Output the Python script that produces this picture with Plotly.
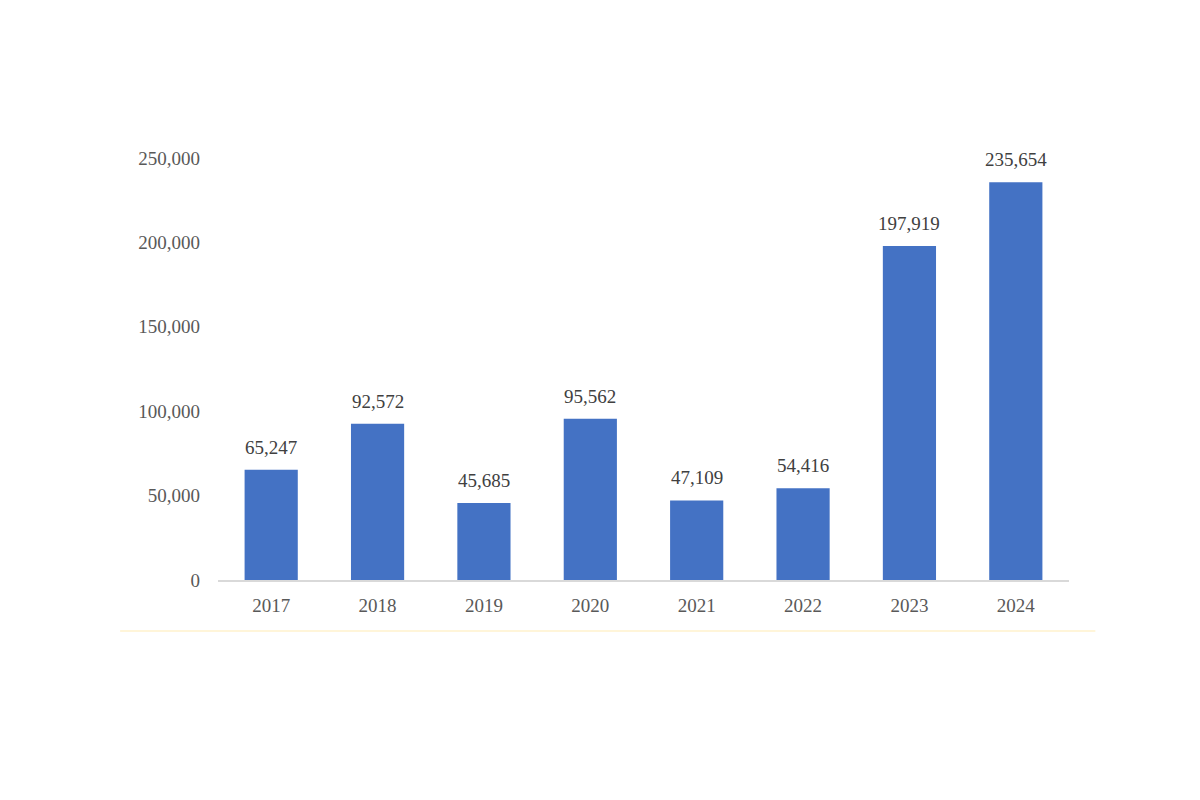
import plotly.graph_objects as go

years = ["2017", "2018", "2019", "2020", "2021", "2022", "2023", "2024"]
values = [65247, 92572, 45685, 95562, 47109, 54416, 197919, 235654]
y_ticks = [0, 50000, 100000, 150000, 200000, 250000]
y_tick_text = ["0", "50,000", "100,000", "150,000", "200,000", "250,000"]

font_family = "Liberation Serif, DejaVu Serif, serif"

fig = go.Figure(
    go.Bar(
        x=years,
        y=values,
        marker=dict(color="#4472C4", line=dict(width=0)),
        width=0.5,
        cliponaxis=False,
        hoverinfo="x+y",
    )
)

# category axis: annotation x given as the category index
for i, v in enumerate(values):
    fig.add_annotation(
        x=i, y=v, xref="x", yref="y",
        text=f"{v:,}",
        showarrow=False,
        yanchor="bottom",
        yshift=10,
        font=dict(family=font_family, size=19, color="#404040"),
    )

fig.update_layout(
    width=1200,
    height=800,
    paper_bgcolor="white",
    plot_bgcolor="white",
    margin=dict(l=210, r=139, t=150, b=228),
    showlegend=False,
    font=dict(family=font_family, size=19, color="#595959"),
)

fig.update_xaxes(
    type="category",
    categoryorder="array",
    categoryarray=years,
    range=[-0.5, len(years) - 0.5],
    showline=True,
    linecolor="#D9D9D9",
    linewidth=1.5,
    showgrid=False,
    ticks="",
    ticklabelstandoff=7,
    tickfont=dict(family=font_family, size=19, color="#595959"),
)

fig.update_yaxes(
    range=[0, 250000],
    tickvals=y_ticks,
    ticktext=y_tick_text,
    showgrid=False,
    zeroline=False,
    showline=False,
    ticks="",
    ticklabelstandoff=17,
    tickfont=dict(family=font_family, size=19, color="#595959"),
)

fig.add_shape(
    type="line",
    xref="paper", yref="paper",
    x0=-0.115, x1=1.031, y0=-0.121, y1=-0.121,
    line=dict(color="#FFF2CC", width=1.5),
)

fig.write_html("out.html")
